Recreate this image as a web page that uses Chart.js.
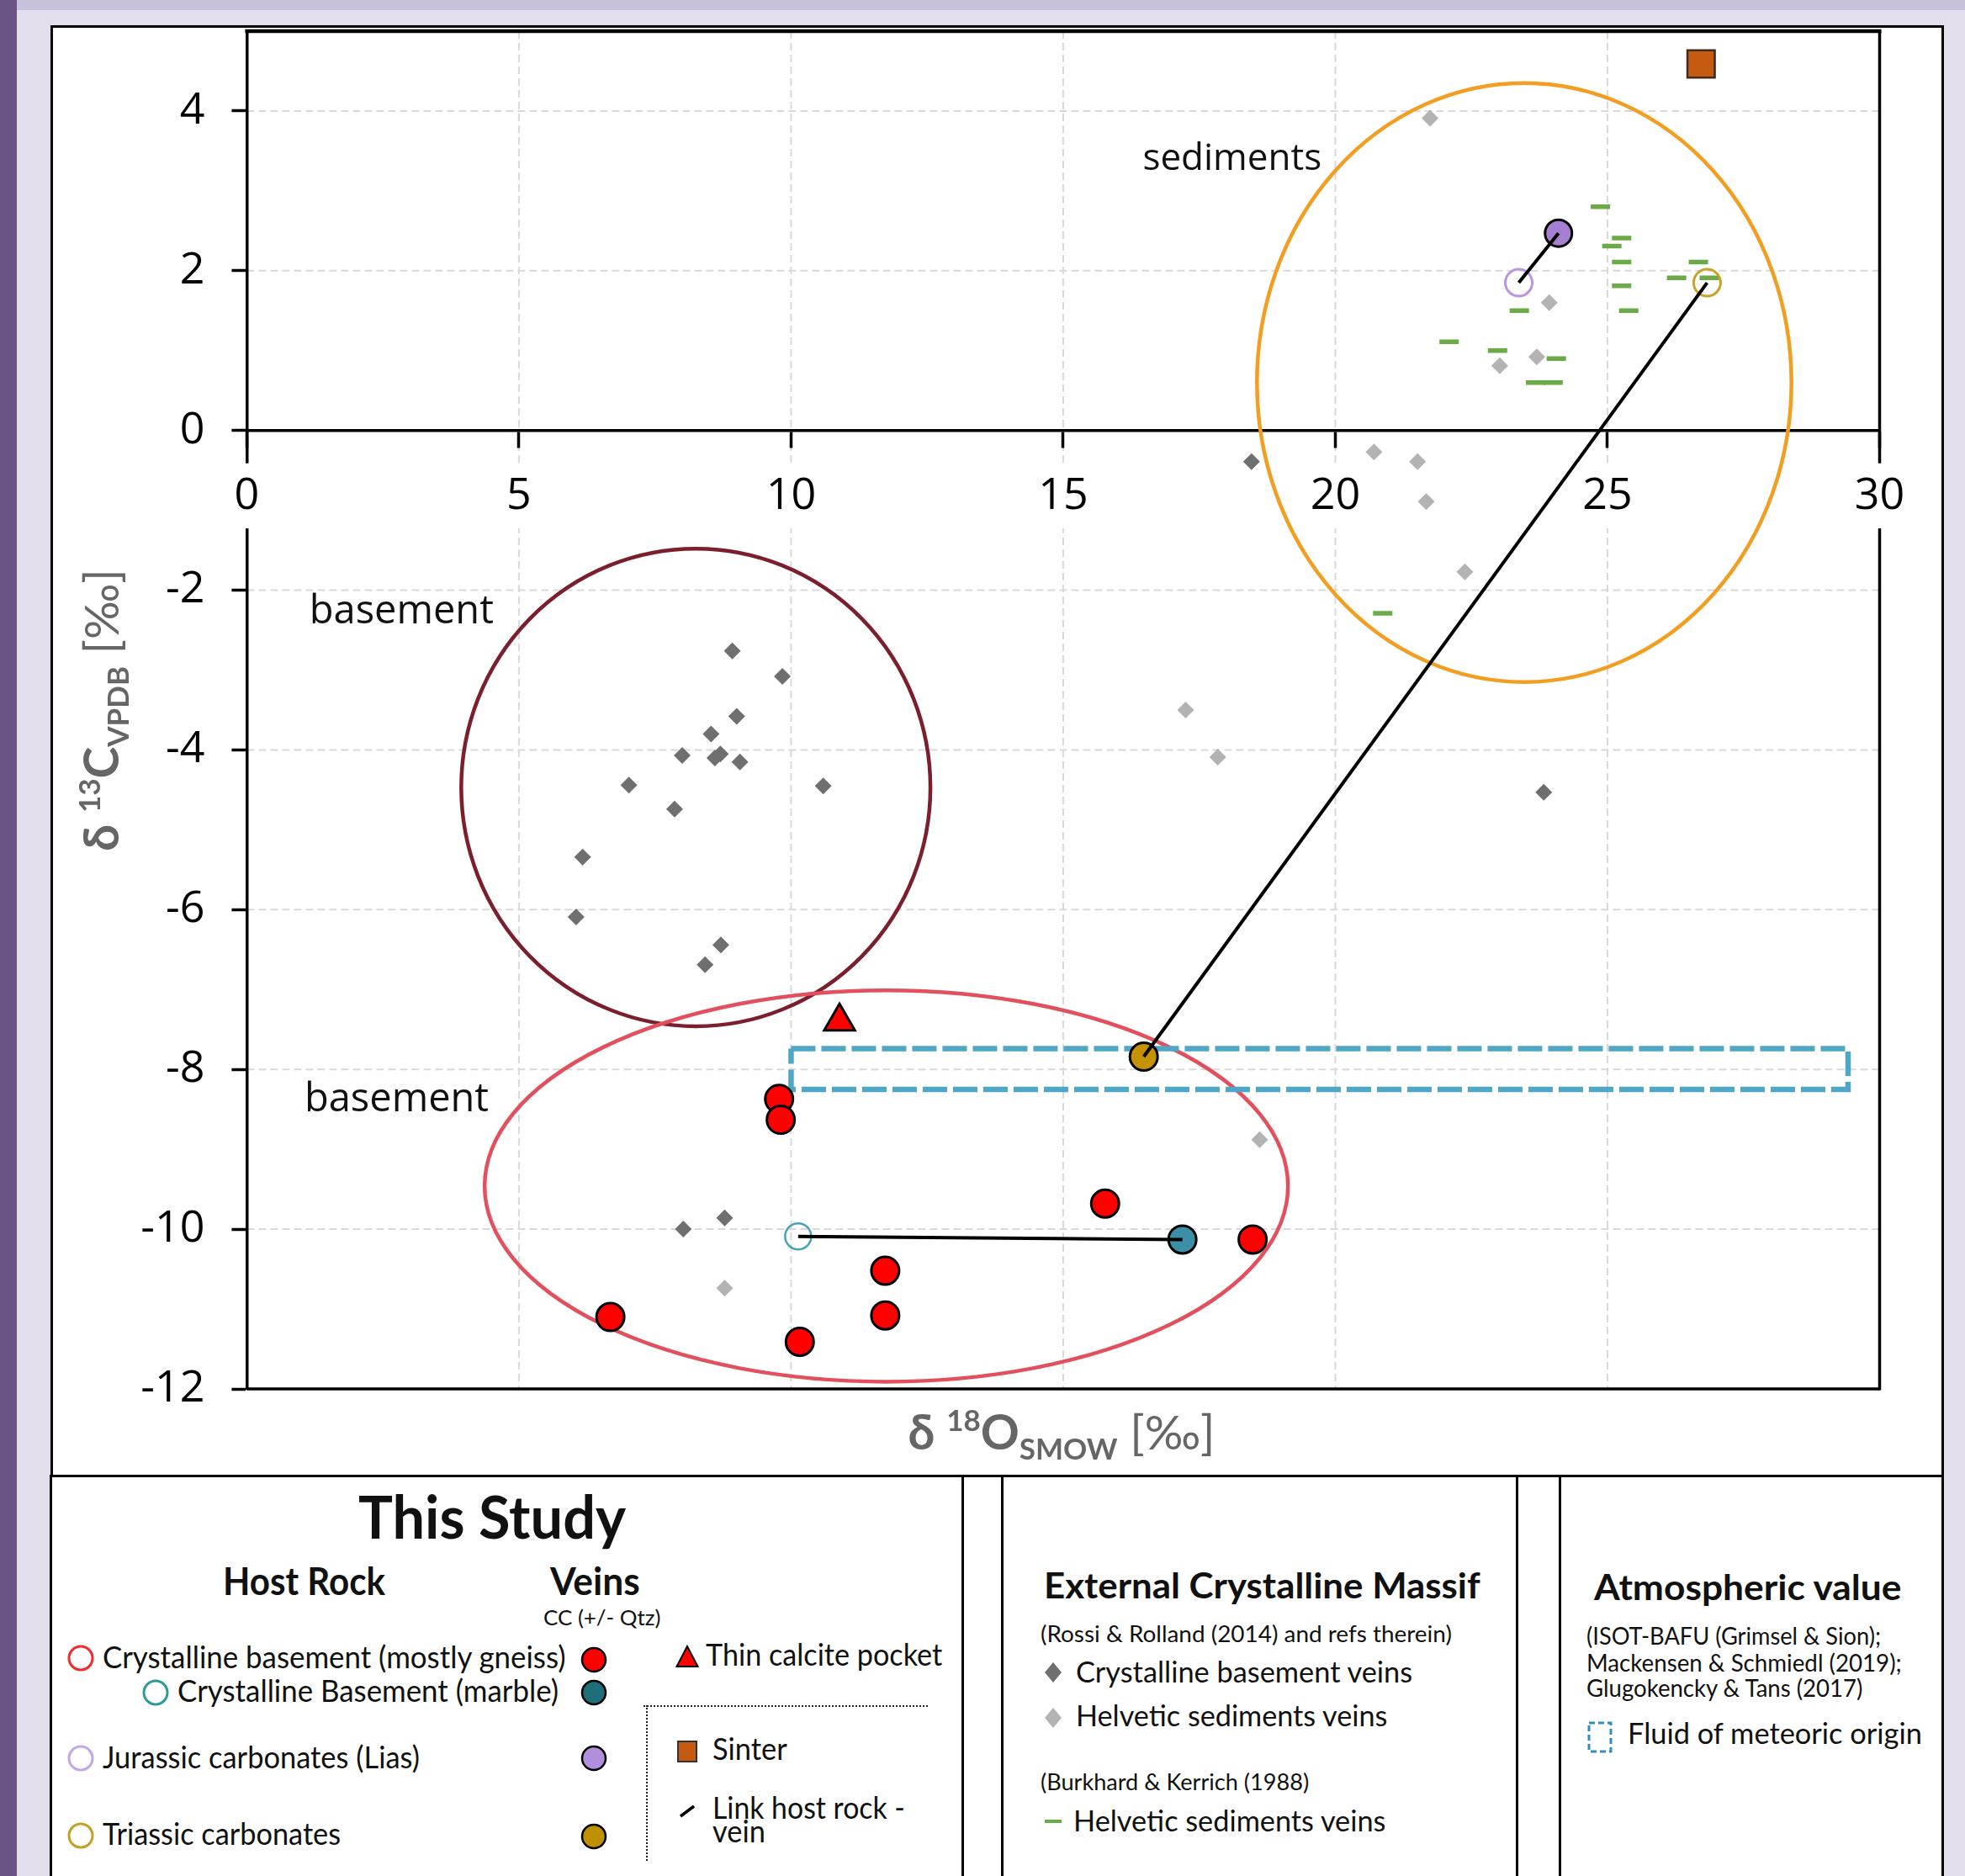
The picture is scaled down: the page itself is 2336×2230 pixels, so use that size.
<!DOCTYPE html>
<html>
<head>
<meta charset="utf-8">
<title>d13C vs d18O</title>
<script src="https://cdn.jsdelivr.net/npm/chart.js@4.4.1/dist/chart.umd.min.js"></script>
<style>
  html, body { margin: 0; padding: 0; }
  body { width: 2336px; height: 2230px; position: relative; overflow: hidden; background: #e3deeb; }
  #strip { position: absolute; left: 0; top: 0; width: 2336px; height: 12px; background: #c9c0da; }
  #bar { position: absolute; left: 0; top: 0; width: 20px; height: 2230px; background: #6a5486; }
  #sheet { position: absolute; left: 60px; top: 30px; width: 2251px; height: 2210px; background: #fff; }
  .box { position: absolute; border: 3px solid #000; box-sizing: border-box; }
  #chart { position: absolute; left: 0; top: 0; }
  .t { position: absolute; white-space: nowrap; line-height: 1.2; color: #111; font-family: Lato, "Noto Sans", sans-serif; transform-origin: 0 0; }
  .t .bl { display: inline-block; width: 0; height: 0; vertical-align: baseline; }
  .ic { position: absolute; overflow: visible; }
  .dot-h { position: absolute; border-top: 2.5px dotted #222; height: 0; }
  .dot-v { position: absolute; border-left: 2.5px dotted #222; width: 0; }
</style>
</head>
<body>
<div id="strip"></div>
<div id="bar"></div>
<div id="sheet"></div>
<div class="box" style="left:60px;top:30px;width:2251px;height:1726px"></div>
<div class="box" style="left:59px;top:1753px;width:1087px;height:520px"></div>
<div class="box" style="left:1190px;top:1753px;width:615px;height:520px"></div>
<div class="box" style="left:1853px;top:1753px;width:458px;height:520px"></div>
<div class="dot-h" style="left:765px;top:2027px;width:338px"></div>
<div class="dot-v" style="left:768px;top:2027px;height:185px"></div>
<canvas id="chart" width="2336" height="1753"></canvas>
<div id="legend"></div>
<script>
// axis ticks
const xTickValues = [0, 5, 10, 15, 20, 25, 30]
const yTickValues = [-12, -10, -8, -6, -4, -2, 0, 2, 4]
const xMin = 0, xMax = 30, yMin = -12, yMax = 5

// Rossi & Rolland (2014) - crystalline basement veins
const ecmBasementVeins = [
    { x: 8.92, y: -2.76 }, { x: 9.84, y: -3.08 }, { x: 9.00, y: -3.58 }, { x: 8.53, y: -3.80 },
    { x: 8.00, y: -4.07 }, { x: 8.60, y: -4.10 }, { x: 8.70, y: -4.05 }, { x: 9.06, y: -4.15 },
    { x: 7.02, y: -4.44 }, { x: 10.59, y: -4.45 }, { x: 7.86, y: -4.74 }, { x: 6.17, y: -5.34 },
    { x: 6.05, y: -6.09 }, { x: 8.71, y: -6.44 }, { x: 8.42, y: -6.69 }, { x: 18.46, y: -0.39 },
    { x: 8.02, y: -10.00 }, { x: 8.78, y: -9.86 }, { x: 23.83, y: -4.53 }
]
// Rossi & Rolland (2014) - Helvetic sediments veins
const ecmHelveticVeins = [
    { x: 21.74, y: 3.91 }, { x: 23.93, y: 1.60 }, { x: 23.70, y: 0.92 }, { x: 23.02, y: 0.81 },
    { x: 20.71, y: -0.27 }, { x: 21.51, y: -0.39 }, { x: 21.67, y: -0.89 }, { x: 22.38, y: -1.77 },
    { x: 17.25, y: -3.50 }, { x: 17.84, y: -4.09 }, { x: 18.61, y: -8.88 }, { x: 8.78, y: -10.74 }
]
// Burkhard & Kerrich (1988) - Helvetic sediments veins
const bkHelveticVeins = [
    { x: 24.87, y: 2.80 }, { x: 25.26, y: 2.41 }, { x: 25.08, y: 2.31 }, { x: 25.26, y: 2.11 },
    { x: 26.67, y: 2.11 }, { x: 26.27, y: 1.91 }, { x: 26.87, y: 1.91 }, { x: 25.26, y: 1.81 },
    { x: 23.38, y: 1.50 }, { x: 25.39, y: 1.50 }, { x: 22.09, y: 1.11 }, { x: 22.98, y: 1.00 },
    { x: 24.06, y: 0.90 }, { x: 23.68, y: 0.60 }, { x: 24.00, y: 0.60 }, { x: 20.87, y: -2.29 }
]
// this study
const gneissVeins = [
    { x: 9.78, y: -8.37 }, { x: 9.81, y: -8.63 }, { x: 15.77, y: -9.68 }, { x: 18.48, y: -10.13 },
    { x: 11.73, y: -10.52 }, { x: 11.73, y: -11.08 }, { x: 6.68, y: -11.10 }, { x: 10.16, y: -11.41 }
]
const marbleHost = [{ x: 10.13, y: -10.09 }]
const marbleVein = [{ x: 17.19, y: -10.13 }]
const liasHost = [{ x: 23.37, y: 1.85 }]
const liasVein = [{ x: 24.10, y: 2.47 }]
const triassicHost = [{ x: 26.83, y: 1.85 }]
const triassicVein = [{ x: 16.48, y: -7.84 }]
const calcitePocket = [{ x: 10.89, y: -7.40 }]
const sinter = [{ x: 26.72, y: 4.59 }]
// atmospheric value - fluid of meteoric origin
const meteoricBox = [
    { x: 10.0, y: -7.74 }, { x: 29.42, y: -7.74 }, { x: 29.42, y: -8.25 }, { x: 10.0, y: -8.25 }, { x: 10.0, y: -7.74 }
]
// host rock - vein links
const links = [
    [liasHost[0], liasVein[0]],
    [triassicHost[0], triassicVein[0]],
    [marbleHost[0], marbleVein[0]]
]
// field outlines: centre and half axes in per mil
const fields = [
    { name: 'basementUpper', cx: 8.25, cy: -4.47, rx: 4.31, ry: 2.99 },
    { name: 'basementLower', cx: 11.75, cy: -9.46, rx: 7.38, ry: 2.45 },
    { name: 'sediments', cx: 23.47, cy: 0.60, rx: 4.91, ry: 3.75 }
]
const fieldLabels = [
    { text: 'sediments', x: 16.46, y: 3.26 },
    { text: 'basement', x: 1.15, y: -2.41 },
    { text: 'basement', x: 1.06, y: -8.52 }
]

const fieldColors = { basementUpper: '#7b1f2d', basementLower: '#e2505d', sediments: '#f29e22' }
const labelSizes = { sediments: 44, basement: 47 }
const tickFont = { family: 'Open Sans', size: 52 }

const framePlugin = {
    id: 'frame',
    beforeDraw(chart) {
        const { ctx, chartArea: a, scales: { x, y } } = chart
        ctx.save()
        ctx.strokeStyle = '#d9d9d9'
        ctx.lineWidth = 2
        ctx.setLineDash([9, 5])
        xTickValues.filter(v => v > xMin && v < xMax).forEach(v => {
            const px = x.getPixelForValue(v)
            ctx.beginPath(); ctx.moveTo(px, a.top); ctx.lineTo(px, a.bottom); ctx.stroke()
        })
        yTickValues.filter(v => v !== 0 && v > yMin && v < yMax).forEach(v => {
            const py = y.getPixelForValue(v)
            ctx.beginPath(); ctx.moveTo(a.left, py); ctx.lineTo(a.right, py); ctx.stroke()
        })
        ctx.restore()
    },
    beforeDatasetsDraw(chart) {
        const { ctx, chartArea: a, scales: { x, y } } = chart
        ctx.save()
        fields.forEach(f => {
            const cx = x.getPixelForValue(f.cx)
            const cy = y.getPixelForValue(f.cy)
            const rx = Math.abs(x.getPixelForValue(f.cx + f.rx) - cx)
            const ry = Math.abs(y.getPixelForValue(f.cy + f.ry) - cy)
            ctx.beginPath()
            ctx.ellipse(cx, cy, rx, ry, 0, 0, Math.PI * 2)
            ctx.strokeStyle = fieldColors[f.name]
            ctx.lineWidth = 4.5
            ctx.stroke()
        })
        // top, right and bottom frame
        ctx.strokeStyle = '#000'
        ctx.lineWidth = 4.5
        ctx.beginPath(); ctx.moveTo(a.left - 2, a.top); ctx.lineTo(a.right + 2, a.top); ctx.stroke()
        ctx.lineWidth = 3.5
        ctx.beginPath(); ctx.moveTo(a.right, a.top); ctx.lineTo(a.right, a.bottom + 1.5); ctx.stroke()
        ctx.beginPath(); ctx.moveTo(a.left, a.bottom); ctx.lineTo(a.right, a.bottom); ctx.stroke()
        // field names
        ctx.fillStyle = '#111'
        ctx.textBaseline = 'alphabetic'
        ctx.textAlign = 'left'
        fieldLabels.forEach(l => {
            ctx.font = labelSizes[l.text] + 'px "Open Sans"'
            ctx.fillText(l.text, x.getPixelForValue(l.x), y.getPixelForValue(l.y))
        })
        ctx.restore()
    },
    afterDraw(chart) {
        const { ctx, chartArea: a } = chart
        const big = 'bold 57px Lato, "DejaVu Sans"'
        const small = 'bold 35px Lato, "DejaVu Sans"'
        const plain = '57px Lato, "DejaVu Sans"'
        const runs = (sup, main, sub) => [
            { text: '\u03b4 ', font: big, dy: 0 },
            { text: sup, font: small, dy: -22 },
            { text: main, font: big, dy: 0 },
            { text: sub, font: small, dy: 12 },
            { text: ' [\u2030]', font: plain, dy: 0 }
        ]
        const drawRuns = (list, cx, base) => {
            let total = 0
            list.forEach(r => { ctx.font = r.font; total += ctx.measureText(r.text).width })
            let px = cx - total / 2
            list.forEach(r => {
                ctx.font = r.font
                ctx.fillText(r.text, px, base + r.dy)
                px += ctx.measureText(r.text).width
            })
        }
        ctx.save()
        ctx.fillStyle = '#666'
        ctx.textBaseline = 'alphabetic'
        ctx.textAlign = 'left'
        drawRuns(runs('18', 'O', 'SMOW'), (a.left + a.right) / 2 - 2, 1723)
        ctx.translate(141, (a.top + a.bottom) / 2)
        ctx.rotate(-Math.PI / 2)
        drawRuns(runs('13', 'C', 'VPDB'), 0, 0)
        ctx.restore()
    }
}

const marker = (data, style) => Object.assign({ data, showLine: false, pointHoverRadius: 0 }, style)
const linkSets = links.map(pair => ({
    data: pair, showLine: true, borderColor: '#000', borderWidth: 4, pointRadius: 0, pointHoverRadius: 0
}))

new Chart(document.getElementById('chart'), {
    type: 'scatter',
    data: {
        datasets: [
            ...linkSets,
            marker(triassicVein, { pointStyle: 'circle', pointRadius: 16.5, pointBackgroundColor: '#c59300', pointBorderColor: '#000', pointBorderWidth: 3 }),
            marker(triassicHost, { pointStyle: 'circle', pointRadius: 16, pointBackgroundColor: 'rgba(255,255,255,0)', pointBorderColor: '#c9a227', pointBorderWidth: 3 }),
            marker(liasVein, { pointStyle: 'circle', pointRadius: 16, pointBackgroundColor: '#a57fd2', pointBorderColor: '#000', pointBorderWidth: 3 }),
            marker(liasHost, { pointStyle: 'circle', pointRadius: 16, pointBackgroundColor: 'rgba(255,255,255,0)', pointBorderColor: '#b995e3', pointBorderWidth: 3 }),
            marker(marbleVein, { pointStyle: 'circle', pointRadius: 16.5, pointBackgroundColor: '#3b8fa6', pointBorderColor: '#000', pointBorderWidth: 3 }),
            marker(marbleHost, { pointStyle: 'circle', pointRadius: 15.5, pointBackgroundColor: 'rgba(255,255,255,0)', pointBorderColor: '#44a2b6', pointBorderWidth: 2.5 }),
            marker(gneissVeins, { pointStyle: 'circle', pointRadius: 16.5, pointBackgroundColor: '#ff0000', pointBorderColor: '#000', pointBorderWidth: 3 }),
            marker(calcitePocket, { pointStyle: 'triangle', pointRadius: 21, pointBackgroundColor: '#ff0000', pointBorderColor: '#000', pointBorderWidth: 3 }),
            marker(sinter, { pointStyle: 'rect', pointRadius: 23, pointBackgroundColor: '#c55a11', pointBorderColor: '#3a2a20', pointBorderWidth: 2.5 }),
            marker(bkHelveticVeins, { pointStyle: 'line', pointRadius: 11.5, pointBorderColor: '#6aab48', pointBorderWidth: 5.5 }),
            marker(ecmHelveticVeins, { pointStyle: 'rectRot', pointRadius: 10, pointBackgroundColor: '#b3b3b3', pointBorderWidth: 0 }),
            marker(ecmBasementVeins, { pointStyle: 'rectRot', pointRadius: 10, pointBackgroundColor: '#6f6f6f', pointBorderWidth: 0 }),
            {
                data: meteoricBox, showLine: true, borderColor: '#4fa6c6', borderWidth: 6.5,
                borderDash: [29, 7], borderCapStyle: 'butt', borderJoinStyle: 'miter', pointRadius: 0, pointHoverRadius: 0
            }
        ]
    },
    options: {
        responsive: false,
        animation: false,
        devicePixelRatio: 1,
        events: [],
        layout: { padding: { left: 143.4, right: 101.5, top: 37, bottom: 102 } },
        plugins: { legend: { display: false }, tooltip: { enabled: false } },
        scales: {
            x: {
                type: 'linear', min: xMin, max: xMax, position: { y: 0 },
                afterBuildTicks: s => { s.ticks = xTickValues.map(value => ({ value })) },
                afterFit: s => { s.height = 0; s.paddingLeft = 0; s.paddingRight = 0; s.paddingTop = 0; s.paddingBottom = 0 },
                grid: { drawOnChartArea: false, drawTicks: true, tickLength: 19, tickColor: '#000', tickWidth: 3.5, color: '#000' },
                border: { display: true, color: '#000', width: 3.5 },
                ticks: {
                    z: 1, font: tickFont, color: '#000', padding: 28, maxRotation: 0,
                    showLabelBackdrop: true, backdropColor: '#fff',
                    backdropPadding: { top: 8, bottom: 7, left: 6, right: 6 }
                }
            },
            y: {
                type: 'linear', min: yMin, max: yMax, position: 'left',
                afterBuildTicks: s => { s.ticks = yTickValues.map(value => ({ value })) },
                afterFit: s => { s.width = 150; s.paddingTop = 0; s.paddingBottom = 0; s.paddingLeft = 0; s.paddingRight = 0 },
                grid: { drawOnChartArea: false, drawTicks: true, tickLength: 18, tickColor: '#000', tickWidth: 3.5, color: '#000' },
                border: { display: true, color: '#000', width: 3.5 },
                ticks: { font: tickFont, color: '#000', padding: 32 }
            }
        }
    },
    plugins: [framePlugin]
})

// legend: text, left, baseline, size, bold, width
const legendText = [
    ['This Study', 426, 1829, 71, true, 318],
    ['Host Rock', 265, 1896, 46, true, 193],
    ['Veins', 654, 1896, 46, true, 107],
    ['CC (+/- Qtz)', 646, 1932, 25, false, 140],
    ['Crystalline basement (mostly gneiss)', 122, 1983, 36, false, 551],
    ['Crystalline Basement (marble)', 211, 2023, 36, false, 453],
    ['Jurassic carbonates (Lias)', 122, 2102, 36, false, 377],
    ['Triassic carbonates', 122, 2193, 36, false, 283],
    ['Thin calcite pocket', 839, 1980, 36, false, 281],
    ['Sinter', 847, 2092, 36, false, 89],
    ['Link host rock -', 847, 2162, 36, false, 229],
    ['vein', 847, 2190, 36, false, 63],
    ['External Crystalline Massif', 1241, 1900, 42, true, 519],
    ['(Rossi & Rolland (2014) and refs therein)', 1237, 1952, 27, false, 489],
    ['Crystalline basement veins', 1279, 2000, 34, false, 400],
    ['Helvetic sediments veins', 1279, 2052, 34, false, 370],
    ['(Burkhard & Kerrich (1988)', 1237, 2128, 27, false, 319],
    ['Helvetic sediments veins', 1276, 2177, 34, false, 371],
    ['Atmospheric value', 1895, 1902, 42, true, 366],
    ['(ISOT-BAFU (Grimsel & Sion);', 1886, 1955, 28, false, 350],
    ['Mackensen & Schmiedl (2019);', 1886, 1987, 28, false, 375],
    ['Glugokencky & Tans (2017)', 1886, 2017, 28, false, 328],
    ['Fluid of meteoric origin', 1935, 2073, 34, false, 350]
]

// legend symbols: centre x, centre y, svg markup around 0,0
const legendIcons = [
    [96, 1971, '<circle r="14" fill="none" stroke="#f02b2b" stroke-width="3"/>'],
    [706, 1973, '<circle r="14" fill="#ff0000" stroke="#000" stroke-width="2.5"/>'],
    [185, 2012, '<circle r="14" fill="none" stroke="#2f9a9a" stroke-width="3"/>'],
    [706, 2012, '<circle r="14" fill="#1e6f78" stroke="#000" stroke-width="2.5"/>'],
    [96, 2090, '<circle r="14" fill="none" stroke="#c2a6ea" stroke-width="3"/>'],
    [706, 2090, '<circle r="14" fill="#b08fdc" stroke="#000" stroke-width="2.5"/>'],
    [96, 2182, '<circle r="14" fill="none" stroke="#c4a028" stroke-width="3"/>'],
    [706, 2183, '<circle r="14" fill="#bf9000" stroke="#000" stroke-width="2.5"/>'],
    [817, 1970, '<polygon points="0,-13 12.5,11 -12.5,11" fill="#ff0000" stroke="#000" stroke-width="2"/>'],
    [817, 2082, '<rect x="-11" y="-12" width="22" height="24" fill="#c55a11" stroke="#333" stroke-width="2"/>'],
    [817, 2153, '<line x1="-8" y1="6" x2="8" y2="-6" stroke="#000" stroke-width="3.5"/>'],
    [1251.5, 1988, '<polygon points="0,-12 10,0 0,12 -10,0" fill="#6f6f6f"/>'],
    [1251.5, 2042, '<polygon points="0,-12 10,0 0,12 -10,0" fill="#b3b3b3"/>'],
    [1251.5, 2165, '<line x1="-10" y1="0" x2="10" y2="0" stroke="#6aab48" stroke-width="4"/>'],
    [1902, 2065, '<rect x="-13" y="-17" width="26" height="34" fill="none" stroke="#2f8fc0" stroke-width="3" stroke-dasharray="7 4"/>']
]

const legend = document.getElementById('legend')
legendIcons.forEach(([cx, cy, inner]) => {
    const wrap = document.createElement('div')
    wrap.innerHTML = '<svg class="ic" width="60" height="60" viewBox="-30 -30 60 60">' + inner + '</svg>'
    const svg = wrap.firstChild
    svg.style.left = (cx - 30) + 'px'
    svg.style.top = (cy - 30) + 'px'
    legend.appendChild(svg)
})
legendText.forEach(([text, left, base, size, bold, width]) => {
    const d = document.createElement('div')
    d.className = 't'
    d.style.left = left + 'px'
    d.style.top = '0px'
    d.style.fontSize = size + 'px'
    if (bold) d.style.fontWeight = '700'
    d.textContent = text
    const m = document.createElement('span')
    m.className = 'bl'
    d.appendChild(m)
    legend.appendChild(d)
    d.style.top = (base - m.offsetTop) + 'px'
    d.style.transform = 'scaleX(' + (width / d.offsetWidth) + ')'
})
</script>
</body>
</html>
